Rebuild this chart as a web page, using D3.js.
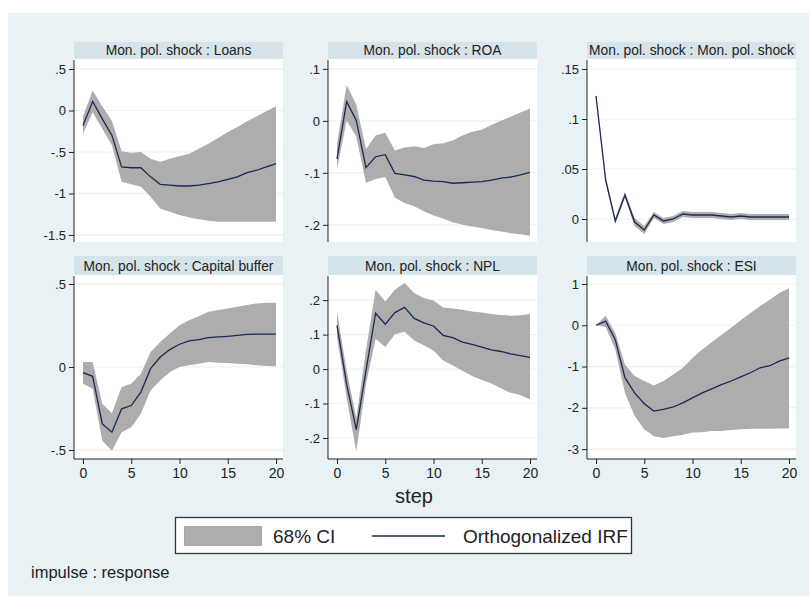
<!DOCTYPE html>
<html>
<head>
<meta charset="utf-8">
<script src="https://cdn.jsdelivr.net/npm/d3@7"></script>
<style>
  html, body { margin: 0; padding: 0; background: #fff; }
  svg { display: block; }
</style>
</head>
<body>
<svg id="chart" width="809" height="596"></svg>
<script>
// ── data ──
const steps = d3.range(0, 21);

const loansIrf = [-0.18, 0.11, -0.10, -0.30, -0.68, -0.69, -0.69, -0.80, -0.89, -0.90, -0.91, -0.91, -0.90, -0.88, -0.86, -0.83, -0.80, -0.75, -0.72, -0.68, -0.64];
const loansHi  = [-0.07, 0.24, 0.05, -0.13, -0.49, -0.51, -0.50, -0.58, -0.62, -0.58, -0.55, -0.52, -0.46, -0.40, -0.33, -0.26, -0.20, -0.13, -0.07, -0.01, 0.05];
const loansLo  = [-0.28, -0.02, -0.22, -0.42, -0.86, -0.89, -0.92, -1.04, -1.18, -1.22, -1.26, -1.29, -1.31, -1.33, -1.34, -1.34, -1.34, -1.34, -1.34, -1.34, -1.34];

const roaIrf = [-0.073, 0.037, 0.001, -0.090, -0.069, -0.065, -0.101, -0.104, -0.107, -0.114, -0.116, -0.117, -0.120, -0.119, -0.118, -0.117, -0.114, -0.110, -0.108, -0.104, -0.099];
const roaHi  = [-0.044, 0.069, 0.031, -0.054, -0.028, -0.023, -0.057, -0.051, -0.049, -0.052, -0.045, -0.043, -0.038, -0.028, -0.021, -0.017, -0.008, 0.000, 0.008, 0.016, 0.024];
const roaLo  = [-0.093, 0.000, -0.030, -0.119, -0.112, -0.108, -0.148, -0.158, -0.164, -0.174, -0.182, -0.188, -0.195, -0.200, -0.203, -0.206, -0.210, -0.213, -0.216, -0.218, -0.221];

const mpIrf = [0.123, 0.039, -0.002, 0.024, -0.003, -0.011, 0.004, -0.002, 0.000, 0.005, 0.004, 0.004, 0.004, 0.003, 0.002, 0.003, 0.002, 0.002, 0.002, 0.002, 0.002];
const mpHi  = [0.124, 0.042, 0.001, 0.027, 0.001, -0.007, 0.007, 0.001, 0.003, 0.008, 0.007, 0.007, 0.007, 0.006, 0.005, 0.006, 0.005, 0.005, 0.005, 0.005, 0.005];
const mpLo  = [0.122, 0.036, -0.005, 0.021, -0.007, -0.015, 0.001, -0.005, -0.003, 0.002, 0.001, 0.001, 0.001, 0.000, -0.001, 0.000, -0.001, -0.001, -0.001, -0.001, -0.001];

const capIrf = [-0.034, -0.056, -0.343, -0.393, -0.252, -0.232, -0.151, -0.010, 0.060, 0.105, 0.137, 0.157, 0.165, 0.177, 0.181, 0.185, 0.190, 0.196, 0.198, 0.198, 0.198];
const capHi  = [0.030, 0.030, -0.222, -0.278, -0.121, -0.101, -0.040, 0.090, 0.151, 0.202, 0.252, 0.282, 0.306, 0.333, 0.343, 0.353, 0.363, 0.373, 0.383, 0.387, 0.387];
const capLo  = [-0.101, -0.131, -0.444, -0.504, -0.393, -0.363, -0.282, -0.141, -0.081, -0.030, 0.000, 0.010, 0.020, 0.030, 0.026, 0.024, 0.020, 0.016, 0.010, 0.006, 0.004];

const nplIrf = [0.127, -0.044, -0.176, -0.005, 0.162, 0.130, 0.164, 0.179, 0.147, 0.134, 0.125, 0.098, 0.091, 0.078, 0.072, 0.064, 0.056, 0.051, 0.044, 0.039, 0.034];
const nplHi  = [0.167, -0.005, -0.142, 0.054, 0.230, 0.196, 0.230, 0.250, 0.221, 0.206, 0.199, 0.179, 0.176, 0.172, 0.167, 0.164, 0.160, 0.157, 0.155, 0.156, 0.160];
const nplLo  = [0.093, -0.083, -0.240, -0.044, 0.088, 0.064, 0.101, 0.108, 0.083, 0.069, 0.054, 0.025, 0.010, -0.005, -0.020, -0.032, -0.042, -0.056, -0.069, -0.075, -0.088];

const esiIrf = [0.00, 0.10, -0.35, -1.27, -1.64, -1.90, -2.08, -2.04, -1.98, -1.88, -1.76, -1.64, -1.54, -1.44, -1.35, -1.25, -1.15, -1.03, -0.98, -0.87, -0.79];
const esiHi  = [0.00, 0.23, -0.19, -0.95, -1.23, -1.35, -1.46, -1.35, -1.19, -1.03, -0.79, -0.59, -0.41, -0.23, -0.06, 0.12, 0.30, 0.46, 0.62, 0.78, 0.90];
const esiLo  = [0.00, -0.04, -0.59, -1.64, -2.20, -2.52, -2.69, -2.73, -2.69, -2.65, -2.60, -2.59, -2.56, -2.56, -2.54, -2.52, -2.51, -2.51, -2.51, -2.50, -2.50];

const titles = [
  "Mon. pol. shock : Loans", "Mon. pol. shock : ROA", "Mon. pol. shock : Mon. pol. shock",
  "Mon. pol. shock : Capital buffer", "Mon. pol. shock : NPL", "Mon. pol. shock : ESI"
];
const yTicks = [
  [0.5, 0, -0.5, -1, -1.5],
  [0.1, 0, -0.1, -0.2],
  [0.15, 0.1, 0.05, 0],
  [0.5, 0, -0.5],
  [0.2, 0.1, 0, -0.1, -0.2],
  [1, 0, -1, -2, -3]
];
const xTicks = [0, 5, 10, 15, 20];
const series = [
  [loansIrf, loansLo, loansHi],
  [roaIrf, roaLo, roaHi],
  [mpIrf, mpLo, mpHi],
  [capIrf, capLo, capHi],
  [nplIrf, nplLo, nplHi],
  [esiIrf, esiLo, esiHi]
];
const legendLabels = ["68% CI", "Orthogonalized IRF"];

// ── layout ──
const BG = "#e8f1f3", STRIP = "#d5e3ea", BAND = "#adadad", LINE = "#1b2a52", GRID = "#eaf2f4";
const colX = [74, 328, 587];                  // y-axis positions
const rows = [{ stripTop: 42, top: 59, bottom: 242 }, { stripTop: 256, top: 275, bottom: 459 }];
const yDomains = [[-1.585, 0.621], [-0.233, 0.119], [-0.023, 0.16], [-0.554, 0.554], [-0.261, 0.273], [-3.24, 1.218]];
const font = "'Liberation Sans', Arial, sans-serif";

const svg = d3.select("#chart");
svg.append("rect").attr("x", 8).attr("y", 13).attr("width", 801).attr("height", 583).attr("fill", BG);

const fmt = v => {
  if (v === 0) return "0";
  let s = String(+v.toFixed(3));
  return s.replace(/^(-?)0\./, "$1.");
};

series.forEach((s, i) => {
  const col = i % 3, row = rows[Math.floor(i / 3)];
  const ax = colX[col];
  const left = ax, right = ax + 209;
  const x = d3.scaleLinear().domain([0, 20]).range([ax + 9, ax + 202]);
  const y = d3.scaleLinear().domain(yDomains[i]).range([row.bottom, row.top]);
  const g = svg.append("g");

  // strip
  g.append("rect").attr("x", left).attr("y", row.stripTop)
    .attr("width", right - left).attr("height", row.top - row.stripTop).attr("fill", STRIP);
  g.append("text").attr("x", (left + right) / 2).attr("y", row.top - 4)
    .attr("text-anchor", "middle").attr("font-family", font).attr("font-size", 13.8)
    .attr("fill", "#222").text(titles[i]);

  // plot region
  g.append("rect").attr("x", left).attr("y", row.top)
    .attr("width", right - left).attr("height", row.bottom - row.top).attr("fill", "#fff");
  g.append("g").selectAll("line").data(yTicks[i]).join("line")
    .attr("x1", left).attr("x2", right)
    .attr("y1", d => y(d)).attr("y2", d => y(d))
    .attr("stroke", GRID).attr("stroke-width", 1.2);

  const [irf, lo, hi] = s;
  const area = d3.area().x((d, k) => x(steps[k])).y0((d, k) => y(lo[k])).y1((d, k) => y(hi[k]));
  g.append("path").datum(steps).attr("d", area).attr("fill", BAND);
  const line = d3.line().x((d, k) => x(steps[k])).y(d => y(d));
  g.append("path").datum(irf).attr("d", line).attr("fill", "none")
    .attr("stroke", LINE).attr("stroke-width", 1.3);

  // y axis
  const yAxis = d3.axisLeft(y).tickValues(yTicks[i]).tickFormat(fmt).tickSize(5).tickPadding(3);
  const ya = g.append("g").attr("transform", `translate(${ax},0)`).call(yAxis);
  ya.select(".domain").attr("d", `M0,${row.top + 1}V${row.bottom}`).attr("stroke", "#222");
  ya.selectAll(".tick line").attr("stroke", "#222");
  ya.selectAll("text").attr("font-family", font).attr("font-size", 13).attr("fill", "#222");

  // x axis on bottom row
  if (i >= 3) {
    const xAxis = d3.axisBottom(x).tickValues(xTicks).tickSize(5).tickPadding(4);
    const xa = g.append("g").attr("transform", `translate(0,${row.bottom})`).call(xAxis);
    xa.select(".domain").attr("d", `M${left},0H${right}`).attr("stroke", "#222");
    xa.selectAll(".tick line").attr("stroke", "#222");
    xa.selectAll("text").attr("font-family", font).attr("font-size", 14).attr("fill", "#222");
  }
});

// axis title
svg.append("text").attr("x", 414).attr("y", 503).attr("text-anchor", "middle")
  .attr("font-family", font).attr("font-size", 20).attr("fill", "#222").text("step");

// legend
const lg = svg.append("g");
lg.append("rect").attr("x", 175.5).attr("y", 517.5).attr("width", 456).attr("height", 36)
  .attr("fill", "#fff").attr("stroke", "#333").attr("stroke-width", 1.3);
lg.append("rect").attr("x", 184.5).attr("y", 526.5).attr("width", 77).attr("height", 19)
  .attr("fill", BAND).attr("stroke", "#999").attr("stroke-width", 0.8);
lg.append("text").attr("x", 273).attr("y", 543).attr("font-family", font).attr("font-size", 19)
  .attr("fill", "#222").text(legendLabels[0]);
lg.append("line").attr("x1", 372).attr("x2", 445).attr("y1", 536).attr("y2", 536)
  .attr("stroke", LINE).attr("stroke-width", 1.3);
lg.append("text").attr("x", 463).attr("y", 543).attr("font-family", font).attr("font-size", 19)
  .attr("fill", "#222").text(legendLabels[1]);

// note
svg.append("text").attr("x", 31).attr("y", 578).attr("font-family", font).attr("font-size", 16.5)
  .attr("fill", "#222").text("impulse : response");
</script>
</body>
</html>
